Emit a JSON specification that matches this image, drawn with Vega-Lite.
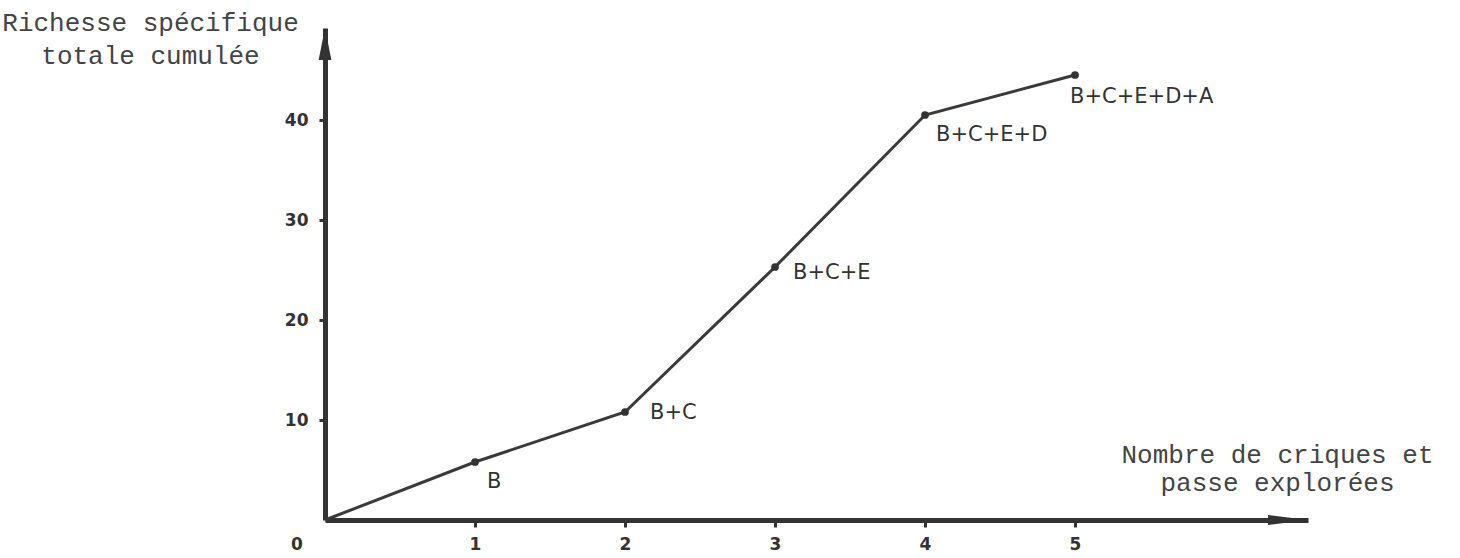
{
  "$schema": "https://vega.github.io/schema/vega-lite/v6.json",
  "autosize": "none",
  "width": 983,
  "height": 492,
  "padding": {"left": 325, "top": 28, "right": 152, "bottom": 38},
  "background": "white",
  "config": {"view": {"stroke": null}},
  "datasets": {
    "curve": [
      {"n": 0, "s": 0, "label": ""},
      {"n": 1, "s": 5.8, "label": "B"},
      {"n": 2, "s": 10.8, "label": "B+C"},
      {"n": 3, "s": 25.3, "label": "B+C+E"},
      {"n": 4, "s": 40.5, "label": "B+C+E+D"},
      {"n": 5, "s": 44.5, "label": "B+C+E+D+A"}
    ],
    "arrowY": [{"n": 0, "s": 47.6}],
    "arrowX": [{"n": 6.42, "s": 0}]
  },
  "layer": [
    {
      "data": {"name": "curve"},
      "mark": {"type": "line", "color": "#3a3a3a", "strokeWidth": 3},
      "encoding": {
        "x": {
          "field": "n", "type": "quantitative",
          "scale": {"domain": [0, 6.553], "nice": false, "zero": true},
          "axis": {
            "values": [1, 2, 3, 4, 5],
            "format": "d",
            "grid": false,
            "domainColor": "#333", "domainWidth": 5,
            "tickColor": "#333", "tickWidth": 3, "tickSize": 7,
            "labelPadding": 9,
            "labelFont": "DejaVu Sans", "labelFontWeight": "bold", "labelFontSize": 17, "labelColor": "#333",
            "title": ["Nombre de criques et", "passe explorées"],
            "titleX": 952, "titleY": -58, "titleAlign": "center", "titleBaseline": "alphabetic", "titleAngle": 0,
            "titleFont": "Liberation Mono", "titleFontSize": 26, "titleFontWeight": "normal", "titleColor": "#444",
            "titleLineHeight": 28
          }
        },
        "y": {
          "field": "s", "type": "quantitative",
          "scale": {"domain": [0, 49.2], "nice": false, "zero": true},
          "axis": {
            "values": [10, 20, 30, 40],
            "format": "d",
            "grid": false,
            "domainColor": "#333", "domainWidth": 5,
            "tickColor": "#333", "tickWidth": 3, "tickSize": 6,
            "labelPadding": 11,
            "labelFont": "DejaVu Sans", "labelFontWeight": "bold", "labelFontSize": 17, "labelColor": "#333",
            "title": ["Richesse spécifique", "totale cumulée"],
            "titleX": -175, "titleY": 2, "titleAlign": "center", "titleBaseline": "alphabetic", "titleAngle": 0,
            "titleFont": "Liberation Mono", "titleFontSize": 26, "titleFontWeight": "normal", "titleColor": "#444",
            "titleLineHeight": 33
          }
        }
      }
    },
    {
      "data": {"name": "curve"},
      "transform": [{"filter": "datum.n > 0"}],
      "mark": {"type": "point", "filled": true, "color": "#333", "size": 60, "opacity": 1},
      "encoding": {
        "x": {"field": "n", "type": "quantitative"},
        "y": {"field": "s", "type": "quantitative"}
      }
    },
    {
      "data": {"name": "curve"},
      "transform": [{"filter": "datum.n == 1"}],
      "mark": {"type": "text", "align": "left", "baseline": "middle", "dx": 12, "dy": 20, "font": "DejaVu Sans", "fontSize": 21, "color": "#333"},
      "encoding": {"x": {"field": "n", "type": "quantitative"}, "y": {"field": "s", "type": "quantitative"}, "text": {"field": "label"}}
    },
    {
      "data": {"name": "curve"},
      "transform": [{"filter": "datum.n == 2"}],
      "mark": {"type": "text", "align": "left", "baseline": "middle", "dx": 25, "dy": 1, "font": "DejaVu Sans", "fontSize": 21, "color": "#333"},
      "encoding": {"x": {"field": "n", "type": "quantitative"}, "y": {"field": "s", "type": "quantitative"}, "text": {"field": "label"}}
    },
    {
      "data": {"name": "curve"},
      "transform": [{"filter": "datum.n == 3"}],
      "mark": {"type": "text", "align": "left", "baseline": "middle", "dx": 18, "dy": 6, "font": "DejaVu Sans", "fontSize": 21, "color": "#333"},
      "encoding": {"x": {"field": "n", "type": "quantitative"}, "y": {"field": "s", "type": "quantitative"}, "text": {"field": "label"}}
    },
    {
      "data": {"name": "curve"},
      "transform": [{"filter": "datum.n == 4"}],
      "mark": {"type": "text", "align": "left", "baseline": "middle", "dx": 11, "dy": 20, "font": "DejaVu Sans", "fontSize": 21, "color": "#333"},
      "encoding": {"x": {"field": "n", "type": "quantitative"}, "y": {"field": "s", "type": "quantitative"}, "text": {"field": "label"}}
    },
    {
      "data": {"name": "curve"},
      "transform": [{"filter": "datum.n == 5"}],
      "mark": {"type": "text", "align": "left", "baseline": "middle", "dx": -5, "dy": 22, "font": "DejaVu Sans", "fontSize": 21, "color": "#333"},
      "encoding": {"x": {"field": "n", "type": "quantitative"}, "y": {"field": "s", "type": "quantitative"}, "text": {"field": "label"}}
    },
    {
      "data": {"name": "curve"},
      "transform": [{"filter": "datum.n == 0"}],
      "mark": {"type": "text", "align": "center", "baseline": "middle", "dx": -28, "dy": 25, "font": "DejaVu Sans", "fontWeight": "bold", "fontSize": 17, "color": "#333"},
      "encoding": {"x": {"field": "n", "type": "quantitative"}, "y": {"field": "s", "type": "quantitative"}, "text": {"value": "0"}}
    },
    {
      "data": {"name": "arrowY"},
      "mark": {"type": "point", "shape": "M0,-1L0.4,1L-0.4,1Z", "filled": true, "color": "#333", "opacity": 1, "size": 1024, "clip": false},
      "encoding": {"x": {"field": "n", "type": "quantitative"}, "y": {"field": "s", "type": "quantitative"}}
    },
    {
      "data": {"name": "arrowX"},
      "mark": {"type": "point", "shape": "M1,0L-1,-0.25L-1,0.25Z", "filled": true, "color": "#333", "opacity": 1, "size": 1600, "clip": false},
      "encoding": {"x": {"field": "n", "type": "quantitative"}, "y": {"field": "s", "type": "quantitative"}}
    }
  ]
}
